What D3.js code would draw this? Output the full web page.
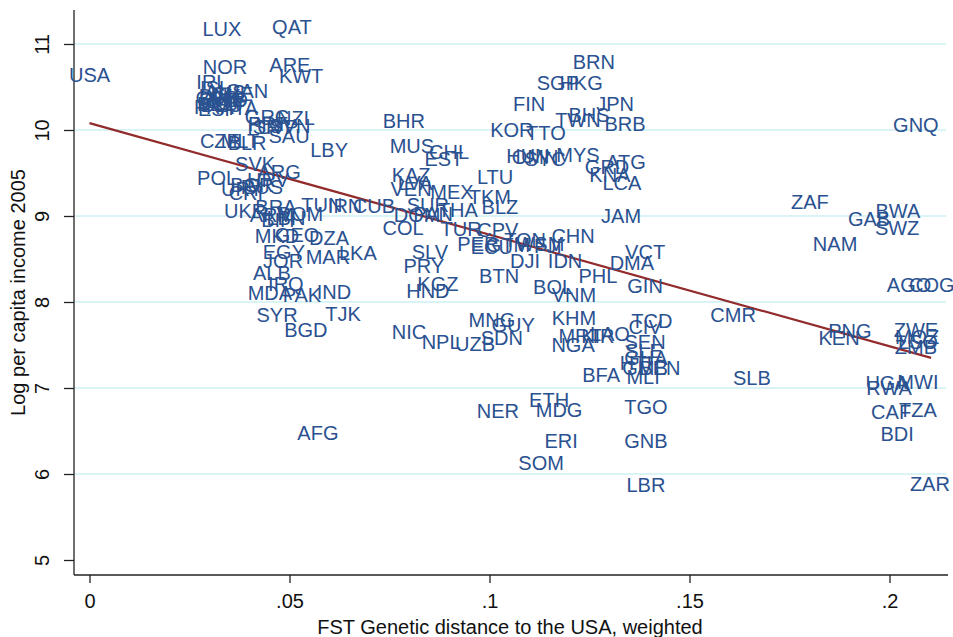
<!DOCTYPE html>
<html>
<head>
<meta charset="utf-8">
<script src="https://cdn.jsdelivr.net/npm/d3@7"></script>
<style>
  body { margin: 0; background: #fff; }
  text { font-family: "Liberation Sans", Arial, sans-serif; }
</style>
</head>
<body>
<script>
// country codes, genetic distance (x) and log income (y)
var codes = ['USA','LUX','QAT','NOR','ARE','KWT','IRL','CAN','ISL','AUS','DNK','GBR','SWE','NLD','AUT','BEL','DEU','FRA','CHE','ESP',
  'ITA','GRC','NZL','ISR','CYP','SVN','PRT','SAU','CZE','BLR','MLT','LBY','SVK','ARG','POL','BGR','RUS','HRV','URY','CRI',
  'UKR','BRA','ARM','BIH','ROM','LBN','MKD','GEO','DZA','EGY','JOR','MAR','LKA','ALB','IRQ','MDA','PAK','IND','SYR','TJK',
  'BGD','AFG','TUN','IRN','CUB','BHR','MUS','CHL','EST','KAZ','LVA','VEN','MEX','LTU','TKM','BLZ','SUR','DOM','PAN','THA',
  'COL','TUR','CPV','PER','ECU','GTM','TON','WSM','FJI','SLV','PRY','KGZ','HND','BTN','DJI','IDN','CHN','BOL','VNM','PHL',
  'JAM','VCT','DMA','GIN','MNG','GUY','NIC','NPL','UZB','SDN','KHM','NGA','MRT','KIR','LAO','TCD','CIV','SEN','SLE','GHA',
  'HTI','GMB','BEN','MLI','BFA','TGO','GNB','LBR','NER','ETH','MDG','ERI','SOM','BRN','SGP','HKG','FIN','JPN','BHS','TWN',
  'BRB','KOR','TTO','HUN','SYC','OMN','MYS','ATG','GRD','KNA','LCA','CMR','SLB','ZAF','GAB','BWA','SWZ','NAM','GNQ','AGO',
  'COG','PNG','KEN','ZWE','MOZ','LSO','ZMB','UGA','MWI','RWA','CAF','TZA','BDI','ZAR'];

var fstDist = [0.0000,0.0331,0.0506,0.0339,0.0501,0.0529,0.0306,0.0394,0.0314,0.0339,0.0326,0.0319,0.0331,0.0346,0.0336,0.0316,0.0331,0.0311,0.0356,0.0321,
  0.0384,0.0444,0.0516,0.0436,0.0471,0.0501,0.0446,0.0499,0.0326,0.0394,0.0376,0.0599,0.0414,0.0474,0.0319,0.0406,0.0431,0.0446,0.0381,0.0391,
  0.0389,0.0466,0.0456,0.0471,0.0526,0.0491,0.0469,0.0519,0.0599,0.0486,0.0484,0.0596,0.0671,0.0456,0.0491,0.0451,0.0531,0.0611,0.0469,0.0634,
  0.0541,0.0571,0.0581,0.0639,0.0711,0.0786,0.0806,0.0899,0.0886,0.0804,0.0814,0.0804,0.0906,0.1014,0.1001,0.1026,0.0846,0.0819,0.0859,0.0921,
  0.0784,0.0929,0.1021,0.0971,0.1006,0.1046,0.1089,0.1126,0.1146,0.0851,0.0836,0.0871,0.0846,0.1024,0.1089,0.1189,0.1209,0.1159,0.1211,0.1271,
  0.1329,0.1389,0.1356,0.1389,0.1006,0.1059,0.0799,0.0879,0.0964,0.1031,0.1211,0.1209,0.1226,0.1271,0.1301,0.1406,0.1389,0.1389,0.1386,0.1391,
  0.1366,0.1389,0.1426,0.1384,0.1279,0.1391,0.1391,0.1391,0.1021,0.1149,0.1174,0.1179,0.1129,0.1261,0.1171,0.1229,0.1099,0.1314,0.1249,0.1221,
  0.1339,0.1056,0.1141,0.1096,0.1139,0.1114,0.1221,0.1341,0.1294,0.1301,0.1331,0.1609,0.1656,0.1801,0.1949,0.2021,0.2019,0.1864,0.2066,0.2049,
  0.2106,0.1901,0.1874,0.2066,0.2069,0.2071,0.2066,0.1994,0.2071,0.1999,0.2004,0.2071,0.2019,0.2101];

var logIncome = [10.64,11.17,11.20,10.73,10.76,10.63,10.56,10.45,10.49,10.44,10.40,10.37,10.35,10.35,10.31,10.30,10.29,10.27,10.42,10.24,
  10.26,10.15,10.14,10.03,10.03,10.05,10.07,9.93,9.87,9.85,9.87,9.77,9.60,9.51,9.44,9.36,9.34,9.42,9.31,9.27,
  9.06,9.10,9.01,8.95,9.02,8.98,8.77,8.78,8.74,8.58,8.48,8.52,8.57,8.34,8.21,8.10,8.08,8.12,7.85,7.86,
  7.67,6.48,9.13,9.12,9.12,10.10,9.81,9.74,9.66,9.48,9.38,9.31,9.28,9.45,9.22,9.10,9.13,9.01,9.02,9.07,
  8.86,8.85,8.84,8.67,8.64,8.66,8.72,8.67,8.65,8.58,8.42,8.21,8.13,8.30,8.48,8.48,8.77,8.17,8.08,8.30,
  9.00,8.58,8.45,8.19,7.79,7.73,7.65,7.53,7.51,7.58,7.81,7.50,7.60,7.60,7.63,7.78,7.71,7.53,7.43,7.35,
  7.29,7.23,7.23,7.13,7.15,6.78,6.38,5.87,6.73,6.86,6.74,6.38,6.13,10.79,10.55,10.55,10.30,10.30,10.17,10.12,
  10.07,10.00,9.97,9.70,9.66,9.69,9.71,9.63,9.57,9.48,9.38,7.85,7.12,9.16,8.97,9.06,8.86,8.67,10.06,8.20,
  8.20,7.66,7.58,7.67,7.59,7.53,7.48,7.06,7.07,7.00,6.72,6.74,6.47,5.88];

// fitted line end points
var fitX = [0, 0.2104];
var fitY = [10.08, 7.35];

// ticks
var xTicks = [0, 0.05, 0.1, 0.15, 0.2];
var xTickLabels = ['0', '.05', '.1', '.15', '.2'];
var yTicks = [5, 6, 7, 8, 9, 10, 11];
var gridVals = [6, 7, 8, 9, 10, 11];

var width = 953, height = 637;
// plot edges (note: "top" is taken by window.top, so use other names)
var plotLeft = 74, plotRight = 946, plotTop = 10, plotBottom = 575;

var svg = d3.select('body').append('svg').attr('width', width).attr('height', height);

var x = d3.scaleLinear().domain([-0.003875, 0.214125]).range([plotLeft, plotRight]);
var y = d3.scaleLinear().domain([4.8256, 11.3953]).range([plotBottom, plotTop]);

//gridlines
svg.append('g').selectAll('line').data(gridVals).enter().append('line')
  .attr('x1', plotLeft).attr('x2', plotRight)
  .attr('y1', function(d){ return y(d); }).attr('y2', function(d){ return y(d); })
  .attr('stroke', '#cdeff3').attr('stroke-width', 1.5);

//axes
var xAxis = d3.axisBottom(x).tickValues(xTicks).tickSize(8).tickSizeOuter(0)
  .tickFormat(function(d, i){ return xTickLabels[i]; });
var gx = svg.append('g').attr('transform', 'translate(0,' + plotBottom + ')').call(xAxis);
gx.select('.domain').attr('d', 'M' + plotLeft + ',0H' + (plotRight + 2)).attr('stroke', '#222').attr('stroke-width', 1.3);
gx.selectAll('.tick line').attr('stroke', '#222').attr('stroke-width', 1.3);
gx.selectAll('.tick text').attr('y', 33).attr('dy', 0).attr('font-size', 20).attr('fill', '#111')
  .style('font-family', '"Liberation Sans", Arial, sans-serif');

var yAxis = d3.axisLeft(y).tickValues(yTicks).tickSize(10).tickSizeOuter(0).tickFormat(d3.format('d'));
var gy = svg.append('g').attr('transform', 'translate(' + plotLeft + ',0)').call(yAxis);
gy.select('.domain').attr('d', 'M0,' + plotTop + 'V' + plotBottom).attr('stroke', '#222').attr('stroke-width', 1.3);
gy.selectAll('.tick line').attr('stroke', '#222').attr('stroke-width', 1.3);
gy.selectAll('.tick text').attr('transform', 'rotate(-90)').attr('x', 0).attr('y', -32).attr('dy', '0.35em')
  .attr('text-anchor', 'middle').attr('font-size', 20).attr('fill', '#111')
  .style('font-family', '"Liberation Sans", Arial, sans-serif');

//axis titles
svg.append('text').attr('x', (plotLeft + plotRight) / 2).attr('y', 634).attr('text-anchor', 'middle')
  .attr('font-size', 20).attr('fill', '#111').text('FST Genetic distance to the USA, weighted');
svg.append('text').attr('transform', 'translate(25,' + (plotTop + plotBottom) / 2 + ') rotate(-90)')
  .attr('text-anchor', 'middle').attr('font-size', 20).attr('fill', '#111').text('Log per capita income 2005');

//fit line
var line = d3.line().x(function(d){ return x(d[0]); }).y(function(d){ return y(d[1]); });
svg.append('path').datum(d3.zip(fitX, fitY)).attr('d', line)
  .attr('fill', 'none').attr('stroke', '#922b2b').attr('stroke-width', 2.2);

//country labels
var points = codes.map(function(c, i){ return {code: c, x: fstDist[i], y: logIncome[i]}; });
svg.append('g').selectAll('text').data(points).enter().append('text')
  .attr('x', function(d){ return x(d.x); })
  .attr('y', function(d){ return y(d.y); })
  .attr('dy', '0.35em').attr('text-anchor', 'middle')
  .attr('font-size', 20).attr('fill', '#2a5190')
  .text(function(d){ return d.code; });
</script>
</body>
</html>
